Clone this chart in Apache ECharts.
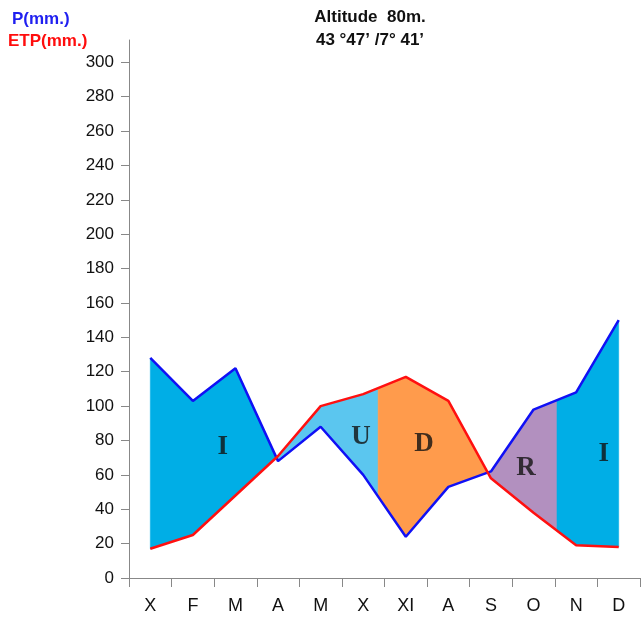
<!DOCTYPE html>
<html>
<head>
<meta charset="utf-8">
<script src="https://cdn.jsdelivr.net/npm/echarts@6/dist/echarts.min.js"></script>
<style>
html, body { margin: 0; padding: 0; background: #fff; }
#chart { width: 641px; height: 624px; }
</style>
</head>
<body>
<div id="chart"></div>
<script>
// data
var months = ['X', 'F', 'M', 'A', 'M', 'X', 'XI', 'A', 'S', 'O', 'N', 'D'];
var precip = [128, 103, 122, 68, 88, 60, 24, 53, 62, 98, 108, 150];   // P (mm)
var etp = [17, 25, 48, 71, 100, 107, 117, 103, 58, 38, 19, 18];        // ETP (mm)
var yTicks = [0, 20, 40, 60, 80, 100, 120, 140, 160, 180, 200, 220, 240, 260, 280, 300];

// where the water regime changes colour (month index), besides the P/ETP crossings
var regimeBreaks = [5.35, 9.55];
var regimeColors = ['#00aee6', '#5bc6ef', '#ff9b4c', '#b290bf', '#00aee6'];
var regimeLetters = ['I', 'U', 'D', 'R', 'I'];
var letterX = [1.7, 4.95, 6.43, 8.82, 10.65];
var letterY = [76, 82, 78, 64, 72];

function valAt(arr, x) {
    var i = Math.min(Math.floor(x), arr.length - 2);
    var t = x - i;
    return arr[i] + (arr[i + 1] - arr[i]) * t;
}

// P / ETP crossing points
var cuts = [0];
for (var i = 0; i < months.length - 1; i++) {
    var d0 = precip[i] - etp[i], d1 = precip[i + 1] - etp[i + 1];
    if (d0 * d1 < 0) cuts.push(i + d0 / (d0 - d1));
}
cuts = cuts.concat(regimeBreaks);
cuts.push(months.length - 1);
cuts.sort(function (a, b) { return a - b; });

var polys = [];
for (var k = 0; k < cuts.length - 1; k++) {
    var a = cuts[k], b = cuts[k + 1];
    var xs = [a];
    for (var j = Math.floor(a) + 1; j < b; j++) xs.push(j);
    xs.push(b);
    var pts = xs.map(function (x) { return [x, valAt(precip, x)]; });
    var low = xs.slice().reverse().map(function (x) { return [x, valAt(etp, x)]; });
    polys.push(pts.concat(low));
}

var chart = echarts.init(document.getElementById('chart'));

var option = {
    backgroundColor: '#fff',
    animation: false,
    textStyle: { fontFamily: 'Liberation Sans, Arial, sans-serif' },
    grid: { left: 129, right: 1, top: 40, bottom: 46 },
    graphic: [
        { type: 'text', x: 12, y: 19, style: { text: 'P(mm.)', fill: '#1f1ff0', font: 'bold 17px Liberation Sans', textVerticalAlign: 'middle' } },
        { type: 'text', x: 8, y: 41, style: { text: 'ETP(mm.)', fill: '#ff0d0d', font: 'bold 17px Liberation Sans', textVerticalAlign: 'middle' } },
        { type: 'text', x: 370, y: 17, style: { text: 'Altitude  80m.', fill: '#111', font: 'bold 17px Liberation Sans', textAlign: 'center', textVerticalAlign: 'middle' } },
        { type: 'text', x: 370, y: 40, style: { text: '43 °47’ /7° 41’', fill: '#111', font: 'bold 17px Liberation Sans', textAlign: 'center', textVerticalAlign: 'middle' } }
    ],
    xAxis: [
        { type: 'value', min: -0.5, max: 11.5, show: false },
        {
            type: 'category',
            data: months,
            boundaryGap: true,
            position: 'bottom',
            axisLine: { show: true, onZero: false, lineStyle: { color: '#888', width: 1 } },
            axisTick: { show: true, interval: 0, length: 9, lineStyle: { color: '#888', width: 1 } },
            axisLabel: { fontSize: 18, color: '#111', margin: 19, interval: 0 },
            splitLine: { show: false }
        }
    ],
    yAxis: {
        type: 'value',
        min: 0,
        max: 313,
        axisLine: { show: true, onZero: false, lineStyle: { color: '#888', width: 1 } },
        axisTick: { show: true, length: 8, lineStyle: { color: '#888' }, customValues: yTicks },
        axisLabel: { fontSize: 17, color: '#111', margin: 15, customValues: yTicks },
        splitLine: { show: false }
    },
    series: [
        {
            type: 'custom',
            xAxisIndex: 0,
            z: 1,
            silent: true,
            data: polys.map(function (p, i) { return [i, 0]; }),
            renderItem: function (params, api) {
                var poly = polys[params.dataIndex].map(function (p) { return api.coord(p); });
                return {
                    type: 'polygon',
                    shape: { points: poly },
                    style: { fill: regimeColors[params.dataIndex], stroke: regimeColors[params.dataIndex], lineWidth: 0.5 }
                };
            }
        },
        {
            name: 'P',
            type: 'line',
            xAxisIndex: 0,
            z: 3,
            symbol: 'none',
            data: precip.map(function (v, i) { return [i, v]; }),
            lineStyle: { color: '#1010f5', width: 2.5 }
        },
        {
            name: 'ETP',
            type: 'line',
            xAxisIndex: 0,
            z: 4,
            symbol: 'none',
            data: etp.map(function (v, i) { return [i, v]; }),
            lineStyle: { color: '#ff1010', width: 2.5 }
        },
        {
            type: 'scatter',
            xAxisIndex: 0,
            z: 5,
            symbolSize: 0,
            data: regimeLetters.map(function (t, i) { return [letterX[i], letterY[i], t]; }),
            label: {
                show: true,
                position: 'inside',
                formatter: function (p) { return p.data[2]; },
                fontFamily: 'Liberation Serif',
                fontWeight: 'bold',
                fontSize: 27,
                color: '#111'
            }
        }
    ]
};

chart.setOption(option);
</script>
</body>
</html>
